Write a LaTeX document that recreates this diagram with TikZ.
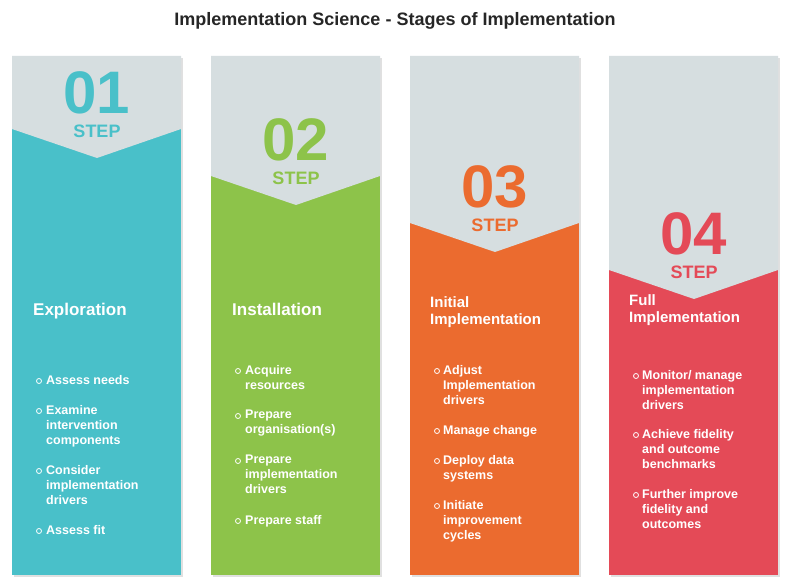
\documentclass[tikz,border=0pt]{standalone}
\usepackage{fontspec}
\setmainfont{Liberation Sans}
\begin{document}
\begin{tikzpicture}[x=1pt,y=-1pt,
  num/.style={font=\bfseries\fontsize{60}{60}\selectfont,inner sep=0},
  steplab/.style={font=\bfseries\fontsize{18}{18}\selectfont,inner sep=0},
  ttl/.style={font=\bfseries\fontsize{17}{19}\selectfont,text=white,align=left,anchor=west,inner sep=0},
  itm/.style={font=\bfseries\fontsize{12.5}{15}\selectfont,text=white,align=left,anchor=north west,inner sep=0},
  bul/.style={circle,draw=white,line width=0.8pt,minimum size=5pt,inner sep=0}]
\useasboundingbox[fill=white] (0,0) rectangle (790,588);
\definecolor{cA}{HTML}{49C0C9}\definecolor{cB}{HTML}{8DC34A}
\definecolor{cC}{HTML}{EB6B2F}\definecolor{cD}{HTML}{E44A57}
\definecolor{gr}{HTML}{D6DEE0}
\node[font=\bfseries\fontsize{18}{18}\selectfont,text=black!85] (title) at (395,21) {Implementation Science - Stages of Implementation};
\foreach \i/\c/\n in {0/cA/01,1/cB/02,2/cC/03,3/cD/04}{
  \pgfmathsetmacro{\xl}{12+199*\i}
  \pgfmathsetmacro{\xr}{\xl+169}
  \pgfmathsetmacro{\xm}{\xl+85}
  \pgfmathsetmacro{\ye}{129+47*\i}
  \pgfmathsetmacro{\yp}{158+47*\i}
  \fill[black!12] (\xl+2,58) rectangle (\xr+2,577);
  \fill[\c] (\xl,56) rectangle (\xr,575);
  \fill[gr] (\xl,56) -- (\xr,56) -- (\xr,\ye) -- (\xm,\yp) -- (\xl,\ye) -- cycle;
  \node[num,text=\c] (n\i) at (\xm,\ye-36) {\n};
  \node[steplab,text=\c] (s\i) at (\xm,\ye+2) {STEP};
}
% column 1
\node[ttl] (t0) at (33,311) {Exploration};
\foreach \y/\t in {380/Assess needs,410/{Examine\\intervention\\components},470/{Consider\\implementation\\drivers},530/Assess fit}{
  \node[bul] at (39,\y+1) {};
  \node[itm] at (46,\y-5) {\t};}
% column 2
\node[ttl] (t1) at (232,309) {Installation};
\foreach \y/\t in {370/{Acquire\\resources},415/{Prepare\\organisation(s)},460/{Prepare\\implementation\\drivers},520/Prepare staff}{
  \node[bul] at (238,\y+1) {};
  \node[itm] at (245,\y-5) {\t};}
% column 3
\node[ttl,font=\bfseries\fontsize{15}{17}\selectfont] (t2) at (430,312) {Initial\\Implementation};
\foreach \y/\t in {370/{Adjust\\Implementation\\drivers},430/Manage change,460/{Deploy data\\systems},505/{Initiate\\improvement\\cycles}}{
  \node[bul] at (437,\y+1) {};
  \node[itm] at (443,\y-5) {\t};}
% column 4
\node[ttl,font=\bfseries\fontsize{15}{17}\selectfont] (t3) at (629,310) {Full\\Implementation};
\foreach \y/\t in {375/{Monitor/ manage\\implementation\\drivers},434/{Achieve fidelity\\and outcome\\benchmarks},494/{Further improve\\fidelity and\\outcomes}}{
  \node[bul] at (636,\y+1) {};
  \node[itm] at (642,\y-5) {\t};}
\end{tikzpicture}
\end{document}
